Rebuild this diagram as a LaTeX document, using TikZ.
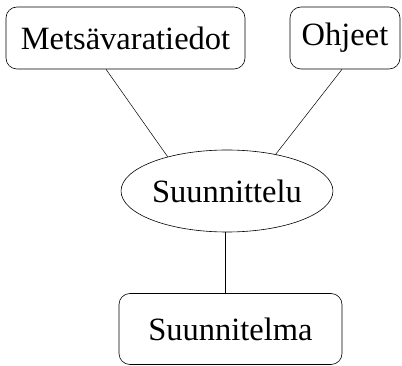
\documentclass[tikz,border=0pt]{standalone}
\usepackage{fontspec}
\setmainfont{Liberation Serif}
\usetikzlibrary{positioning,shapes.geometric}
\tikzset{
  box/.style={rectangle, draw, rounded corners=11pt, line width=0.6pt, inner sep=0pt},
  oval/.style={ellipse, draw, line width=0.6pt, inner sep=0pt},
  link/.style={line width=0.5pt},
  lbl/.style={font=\fontsize{32.5}{38}\selectfont}
}
\begin{document}
\begin{tikzpicture}[x=1pt,y=1pt]
    \useasboundingbox (0,0) rectangle (402,-366);

    % source boxes
    \node[box, lbl, minimum width=239pt, minimum height=62pt] (meta) at (125.5,-38) {Metsävaratiedot};
    \node[box, lbl, minimum width=110pt, minimum height=62pt] (ohjeet) at (345,-38) {Ohjeet};

    % planning step
    \node[oval, lbl, minimum width=210pt, minimum height=82pt] (suun) at (227,-191) {Suunnittelu};

    % result
    \node[box, lbl, minimum width=223pt, minimum height=71pt] (plan) at (230.5,-329) {Suunnitelma};

    % links
    \draw[link] ([xshift=-19.5pt]meta.south) -- (suun.150);
    \draw[link] ([xshift=-3pt]ohjeet.south) -- (suun.37);
    \draw[link] ([xshift=-2pt]suun.south) -- ([xshift=-2pt]suun.south |- plan.north);

\end{tikzpicture}
\end{document}
